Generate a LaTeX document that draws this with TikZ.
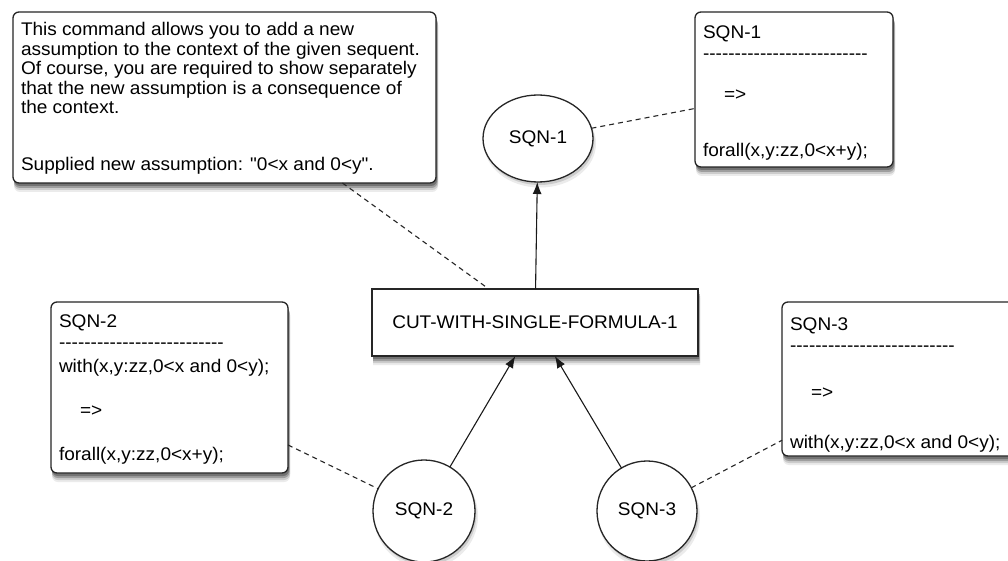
\documentclass[tikz,border=0pt]{standalone}
\usepackage{fontspec}
\setmainfont{Liberation Sans}[FakeStretch=1.04, Ligatures=TeXOff]
\usetikzlibrary{arrows.meta,shapes.geometric}

% a run of 26 plain hyphens
\newcommand\fivehyph{-\kern0pt-\kern0pt-\kern0pt-\kern0pt-\kern0pt}
\newcommand\hyphenrule{\fivehyph\fivehyph\fivehyph\fivehyph\fivehyph-}

\begin{document}
\begin{tikzpicture}[x=1pt,y=-1pt,
  every node/.style={font=\fontsize{18.3}{20}\selectfont, text=black},
  card/.style={draw=black!85, line width=1.3pt, fill=white, rounded corners=6pt,
    inner sep=0pt, outer sep=0pt},
  rulebox/.style={draw=black!85, line width=1.3pt, fill=white,
    inner sep=0pt, outer sep=0pt},
  sqn/.style={draw=black!85, line width=1.3pt, fill=white,
    inner sep=0pt, outer sep=0pt},
  textline/.style={anchor=base west, inner sep=0pt, outer sep=0pt},
  link/.style={draw=black!85, line width=1.1pt, dash pattern=on 5pt off 4pt},
  flow/.style={draw=black!90, line width=1.1pt, -{Latex[length=12pt,width=9pt]}},
  shade1/.style={fill=black!8},
  shade2/.style={fill=black!20},
  shade3/.style={fill=black!38},
  shade4/.style={fill=black!55}
]
\useasboundingbox (0,0) rectangle (1008,561);
\clip (0,0) rectangle (1008,561);
\fill[white] (0,0) rectangle (1008,561);

% graded shadows, drawn first so the shapes sit on top of them
\foreach \x/\y/\X/\Y/\r in {13/12/436/183/6, 695/12/893/167/6, 51/302/288/473/6,
                           782/302/1016/456/6, 372/289/698/356/0.1} {
  \fill[shade1, rounded corners=\r] (\x+1,\y+9) rectangle (\X+2,\Y+9);
  \fill[shade2, rounded corners=\r] (\x+1,\y+7) rectangle (\X+2,\Y+7);
  \fill[shade3, rounded corners=\r] (\x+1,\y+5) rectangle (\X+1.5,\Y+5);
  \fill[shade4, rounded corners=\r] (\x+1,\y+3) rectangle (\X+1,\Y+3);
}
\fill[shade1] (540,143.5) ellipse [x radius=56, y radius=44];
\fill[shade2] (539.5,141.5) ellipse [x radius=55, y radius=43.5];
\foreach \cx/\rr in {424/51, 647/50} {
  \fill[shade1] (\cx+2,516) circle [radius=\rr+1];
  \fill[shade2] (\cx+1.5,514) circle [radius=\rr];
}

% explanation of the rule
\node[card, minimum width=423pt, minimum height=171pt] (note) at (224.5,97.5) {};
\foreach \t/\yy [count=\i] in {
    This command allows you to add a new/36,
    assumption to the context of the given sequent./55.5,
    {Of course, you are required to show separately}/75,
    that the new assumption is a consequence of/94.5,
    the context./114,
    {Supplied new assumption: "0<x and 0<y".}/171}
  \node[textline] (note-\i) at (21,\yy) {\t};

% sequent cards
\node[card, minimum width=198pt, minimum height=155pt] (b1) at (794,89.5) {};
\node[textline] (b1-name) at (703,38.5) {SQN-1};
\node[textline] (b1-rule) at (703,60) {\hyphenrule};
\node[textline] (b1-imp)  at (724,101) {=>};
\node[textline] (b1-goal) at (703,157) {forall(x,y:zz,0<x+y);};

\node[card, minimum width=237pt, minimum height=171pt] (b2) at (169.5,387.5) {};
\node[textline] (b2-name) at (59,327.5) {SQN-2};
\node[textline] (b2-rule) at (59,348) {\hyphenrule};
\node[textline] (b2-hyp)  at (59,372) {with(x,y:zz,0<x and 0<y);};
\node[textline] (b2-imp)  at (80,416) {=>};
\node[textline] (b2-goal) at (59,460) {forall(x,y:zz,0<x+y);};

\node[card, minimum width=234pt, minimum height=154pt] (b3) at (899,379) {};
\node[textline] (b3-name) at (790,330) {SQN-3};
\node[textline] (b3-rule) at (790,351) {\hyphenrule};
\node[textline] (b3-imp)  at (811,398) {=>};
\node[textline] (b3-goal) at (790,448) {with(x,y:zz,0<x and 0<y);};

% proof tree
\node[rulebox, minimum width=326pt, minimum height=67pt] (rect) at (535,322.5) {CUT-WITH-SINGLE-FORMULA-1};
\node[sqn, ellipse, minimum width=110pt, minimum height=87pt] (c1) at (538,138.5) {SQN-1};
\node[sqn, circle, minimum size=102pt] (c2) at (424,511) {SQN-2};
\node[sqn, circle, minimum size=100pt] (c3) at (647,511) {SQN-3};

% annotations
\draw[link] (note) -- (rect);
\draw[link] (c1) -- (b1);
\draw[link] (b2) -- (c2);
\draw[link] (c3) -- (b3);

% derivation arrows
\draw[flow] (rect) -- (c1);
\draw[flow] (c2) -- (rect);
\draw[flow] (c3) -- (rect);
\end{tikzpicture}
\end{document}
